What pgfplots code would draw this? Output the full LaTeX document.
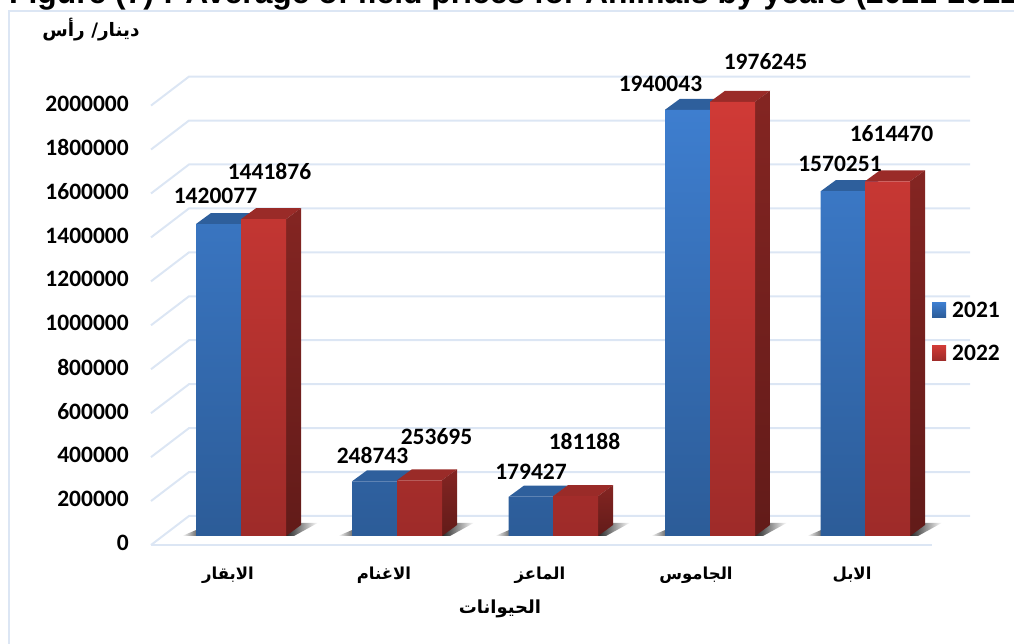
\documentclass[border=0pt]{standalone}
\usepackage{fontspec}
\usepackage{pgfplots}
\pgfplotsset{compat=1.18}
\setmainfont{Carlito}
\newfontfamily\titlefont{Liberation Sans}
\newfontfamily\arabicfont[Script=Arabic]{DejaVu Sans}
\TeXXeTstate=1
\definecolor{gridc}{HTML}{DCE6F4}
\definecolor{blueT}{HTML}{3E7ECF}
\definecolor{blueB}{HTML}{2C5C98}
\definecolor{blueTop}{HTML}{2E5F9C}
\definecolor{redT}{HTML}{D03A36}
\definecolor{redB}{HTML}{9E2B29}
\definecolor{redTop}{HTML}{9A2B28}
\definecolor{sideT}{HTML}{842522}
\definecolor{sideB}{HTML}{621B19}
\newcommand\ar[1]{{\arabicfont\bfseries\beginR #1\endR}}
\newcommand\gridline[1]{%
  \edef\temp{\noexpand\addplot[color=gridc,line width=2pt,forget plot] coordinates
    {(151,\the\numexpr#1-40965\relax)(189,\the\numexpr#1+91033\relax)(970,\the\numexpr#1+91033\relax)};}\temp}
% #1 left of blue, #2 left of red, #3 right of red, #4 value 2021, #5 value 2022
\newcommand\depth[5]{%
  \edef\temp{%
    \noexpand\addplot[draw=none,fill=blueTop,forget plot] coordinates
      {(#1,#4)(\the\numexpr#1+15\relax,\the\numexpr#4+50068\relax)(\the\numexpr#2+15\relax,\the\numexpr#4+50068\relax)(#2,#4)} -- cycle;
    \noexpand\addplot[draw=none,fill=redTop,forget plot] coordinates
      {(#2,#5)(\the\numexpr#2+15\relax,\the\numexpr#5+50068\relax)(\the\numexpr#3+15\relax,\the\numexpr#5+50068\relax)(#3,#5)} -- cycle;
    \noexpand\addplot[draw=none,top color=sideT,bottom color=sideB,forget plot] coordinates
      {(#3,0)(\the\numexpr#3+15\relax,50068)(\the\numexpr#3+15\relax,\the\numexpr#5+50068\relax)(#3,#5)} -- cycle;
  }\temp}
\newcommand\shadow[2]{%
  \edef\temp{%
    \noexpand\addplot[draw=none,left color=white,right color=black!55,forget plot] coordinates
      {(\the\numexpr#1-14\relax,0)(#1,0)(#1,27000)} -- cycle;
    \noexpand\addplot[draw=none,left color=black!85,right color=white,forget plot] coordinates
      {(#2,0)(\the\numexpr#2+8\relax,0)(\the\numexpr#2+32\relax,60000)(#2,60000)} -- cycle;
  }\temp}
\newcommand\vlabel[4]{\node[font=\bfseries\fontsize{23.5}{25}\selectfont,inner sep=0pt] at (axis cs:#1,#2) [xshift=#3pt,yshift=#4pt] {#2};}
\begin{document}
\begin{tikzpicture}[x=1pt,y=1pt]
\path[use as bounding box] (0,0) rectangle (1014,644);
\draw[color=gridc,line width=2pt] (9,-10) -- (9,633) -- (1024,633);
\node[anchor=base west,inner sep=0pt,font=\titlefont\bfseries\fontsize{31.8}{34}\selectfont] at (9,640) {Figure (7) : Average of field prices for Animals by years (2021-2022)};
\node[font=\fontsize{18.5}{20}\selectfont] at (91,614) {\ar{دينار/ رأس}};
\node[font=\fontsize{18}{20}\selectfont] at (500,35) {\ar{الحيوانات}};
\begin{axis}[
  at={(135pt,98pt)},anchor=south west,
  scale only axis,width=840pt,height=486pt,
  xmin=135,xmax=975,ymin=-45517,ymax=2166591,
  clip=false,
  axis line style={draw=none},
  major tick length=0pt,
  xtick={228,384,540,696,852},
  xticklabels={\ar{الابقار},\ar{الاغنام},\ar{الماعز},\ar{الجاموس},\ar{الابل}},
  xticklabel style={font=\fontsize{16.5}{18}\selectfont,anchor=center,yshift=-29pt},
  ytick={0,200000,400000,600000,800000,1000000,1200000,1400000,1600000,1800000,2000000},
  scaled y ticks=false,
  yticklabel style={font=\bfseries\fontsize{23.5}{25}\selectfont,/pgf/number format/assume math mode=true,/pgf/number format/fixed,/pgf/number format/1000 sep={},anchor=east,yshift=-7pt,xshift=-6pt,inner sep=0pt},
  legend style={draw=none,fill=none,at={(axis cs:932,1074000)},anchor=north west,font=\bfseries\fontsize{23.5}{25}\selectfont,row sep=22pt,inner sep=0pt},
  legend cell align=left,
  legend image code/.code={\path[#1] (0pt,-7pt) rectangle (14pt,8pt);\path (18pt,0pt);},
]
\gridline{0}\gridline{200000}\gridline{400000}\gridline{600000}\gridline{800000}\gridline{1000000}
\gridline{1200000}\gridline{1400000}\gridline{1600000}\gridline{1800000}\gridline{2000000}
\addplot[color=gridc,line width=2pt,forget plot] coordinates {(151,-40965)(932,-40965)};
\shadow{196}{286}\shadow{352}{442}\shadow{509}{598}\shadow{665}{755}\shadow{821}{910}
\depth{196}{241}{286}{1420077}{1441876}
\depth{352}{397}{442}{248743}{253695}
\depth{509}{553}{598}{179427}{181188}
\depth{665}{710}{755}{1940043}{1976245}
\depth{821}{865}{910}{1570251}{1614470}
\addplot[ybar,bar width=45pt,bar shift=0pt,draw=none,top color=blueT,bottom color=blueB]
  coordinates {(218.5,1420077)(374.5,248743)(531,179427)(687.5,1940043)(843,1570251)};
\addlegendentry{2021}
\addplot[ybar,bar width=45pt,bar shift=0pt,draw=none,top color=redT,bottom color=redB]
  coordinates {(263.5,1441876)(419.5,253695)(575.5,181188)(732.5,1976245)(887.5,1614470)};
\addlegendentry{2022}
\vlabel{218.5}{1420077}{-3}{28}
\vlabel{263.5}{1441876}{6}{48}
\vlabel{374.5}{248743}{-2}{26}
\vlabel{419.5}{253695}{17}{44}
\vlabel{531}{179427}{0}{25}
\vlabel{575.5}{181188}{9}{55}
\vlabel{687.5}{1940043}{-27}{26}
\vlabel{732.5}{1976245}{33}{40}
\vlabel{843}{1570251}{-3}{27}
\vlabel{887.5}{1614470}{4}{48}
\end{axis}
\end{tikzpicture}
\end{document}
